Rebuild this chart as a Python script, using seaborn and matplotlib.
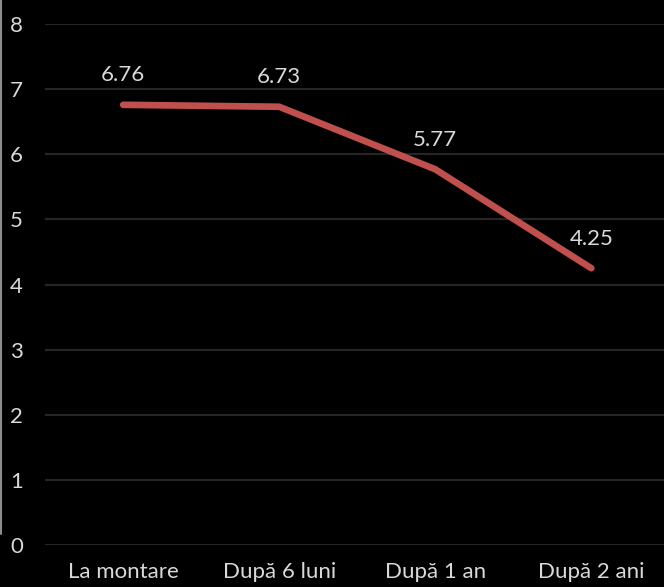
import matplotlib
matplotlib.use("Agg")
import matplotlib.pyplot as plt
import seaborn as sns
import pandas as pd
from matplotlib.lines import Line2D

# date
categorii = ['La montare', 'După 6 luni', 'După 1 an', 'După 2 ani']
valori = [6.76, 6.73, 5.77, 4.25]
y_ticks = [0, 1, 2, 3, 4, 5, 6, 7, 8]

df = pd.DataFrame({'perioada': categorii, 'valoare': valori})

sns.set_style("dark")
plt.rcParams['font.family'] = ['Lato', 'DejaVu Sans']

text_col = '#d9d9d9'
grid_col = '#262626'

fig = plt.figure(figsize=(6.64, 5.87), dpi=100, facecolor='black')
ax = fig.add_axes([0.068, 0.0716, 0.94, 0.8874])
ax.set_facecolor('black')

sns.lineplot(data=df, x='perioada', y='valoare', sort=False, color='#c0504d',
             linewidth=4.8, ax=ax, solid_capstyle='round', solid_joinstyle='miter')

for i, v in enumerate(valori):
    ax.annotate(f'{v:.2f}', (i, v), xytext=(0, 14), textcoords='offset points',
                ha='center', va='bottom', color=text_col, fontsize=16)

ax.set_xlim(-0.5, 3.5)
ax.set_ylim(0, 8)
ax.set_yticks(y_ticks)
ax.yaxis.grid(True, color=grid_col, linewidth=1.5)
ax.xaxis.grid(False)
ax.set_axisbelow(True)
for s in ax.spines.values():
    s.set_visible(False)
ax.tick_params(axis='both', colors=text_col, labelsize=16, length=0)
ax.tick_params(axis='y', pad=16)
ax.tick_params(axis='x', pad=12)
ax.set_xlabel('')
ax.set_ylabel('')

fig.add_artist(Line2D([0.002, 0.002], [1.0, 0.09], transform=fig.transFigure,
                      color='#8c8c8c', linewidth=1.5))

fig.savefig('out.png', dpi=100, facecolor='black')
